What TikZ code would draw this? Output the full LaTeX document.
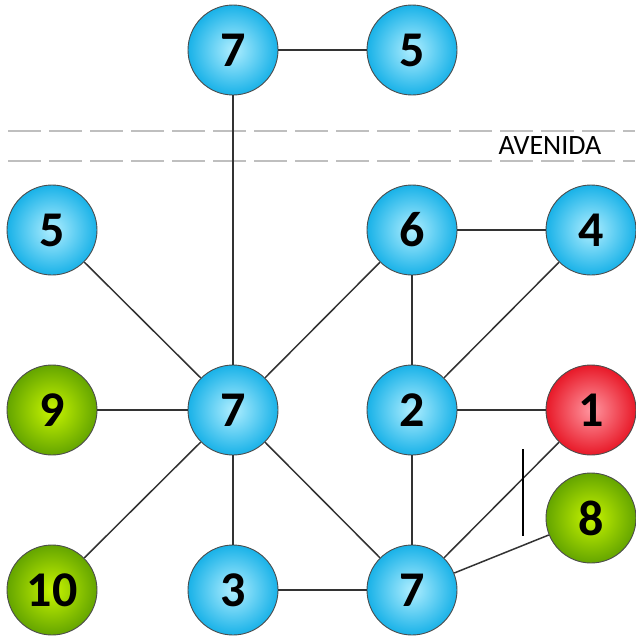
\documentclass[tikz,border=0pt]{standalone}
\usepackage{fontspec}
\setmainfont{Carlito}
\begin{document}
\begin{tikzpicture}[x=1pt,y=-1pt,
  nd/.style={circle,minimum size=90pt,inner sep=0pt,draw=black!70,line width=0.9pt,
    font=\fontsize{50}{50}\selectfont\bfseries},
  bnode/.style={nd,inner color={rgb,255:red,175;green,238;blue,255},outer color={rgb,255:red,25;green,178;blue,232}},
  rnode/.style={nd,inner color={rgb,255:red,255;green,150;blue,160},outer color={rgb,255:red,232;green,25;blue,40}},
  gnode/.style={nd,inner color={rgb,255:red,200;green,245;blue,0},outer color={rgb,255:red,100;green,165;blue,0}},
  edge/.style={draw=black!80,line width=1.5pt},
  road/.style={draw=black!25,line width=1.5pt,dash pattern=on 33pt off 8pt}]
\useasboundingbox (0,0) rectangle (635,637);
\coordinate (rl1) at (8,131); \coordinate (rr1) at (635,131);
\coordinate (rl2) at (8,161); \coordinate (rr2) at (635,161);
\draw[road] (rl1) -- (rr1);
\draw[road] (rl2) -- (rr2);
\node[font=\fontsize{28}{28}\selectfont,inner sep=0pt] (av) at (550,146) {AVENIDA};
\node[bnode] (t7) at (233,50) {7};
\node[bnode] (t5) at (412,50) {5};
\node[bnode] (n5) at (52,230) {5};
\node[bnode] (n6) at (412,230) {6};
\node[bnode] (n4) at (591,230) {4};
\node[gnode] (n9) at (52,410) {9};
\node[bnode] (c7) at (233,410) {7};
\node[bnode] (n2) at (412,410) {2};
\node[rnode] (n1) at (591,410) {1};
\node[gnode] (n8) at (591,518) {8};
\node[gnode] (n10) at (52,590) {10};
\node[bnode] (n3) at (233,590) {3};
\node[bnode] (b7) at (412,590) {7};
\draw[edge] (t7) -- (t5);
\draw[edge] (t7) -- (c7);
\draw[edge] (n5) -- (c7);
\draw[edge] (n9) -- (c7);
\draw[edge] (n10) -- (c7);
\draw[edge] (n3) -- (c7);
\draw[edge] (c7) -- (b7);
\draw[edge] (c7) -- (n6);
\draw[edge] (n6) -- (n4);
\draw[edge] (n6) -- (n2);
\draw[edge] (n4) -- (n2);
\draw[edge] (n2) -- (n1);
\draw[edge] (n2) -- (b7);
\draw[edge] (b7) -- (n1);
\draw[edge] (b7) -- (n8);
\draw[edge] (n3) -- (b7);
\coordinate (v1) at (523,449); \coordinate (v2) at (523,536);
\draw[black,line width=1.8pt] (v1) -- (v2);
\end{tikzpicture}
\end{document}
